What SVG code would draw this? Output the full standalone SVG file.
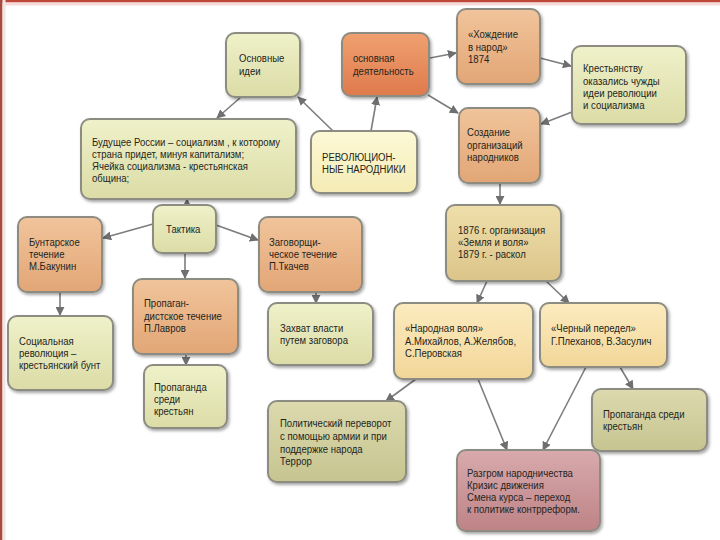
<svg xmlns="http://www.w3.org/2000/svg" width="720" height="540" viewBox="0 0 720 540">
<defs>
<style>
.n rect{stroke:#8c8c82;stroke-width:2;filter:url(#sh)}
.n text{font-family:"Liberation Sans",Arial,sans-serif;font-size:11px;fill:#24241c}
.c line{stroke:#7d7d7d;stroke-width:1.6;marker-end:url(#ah)}
</style>
<filter id="sh" x="-10%" y="-10%" width="125%" height="130%">
<feDropShadow dx="1.5" dy="2" stdDeviation="1.5" flood-color="#000" flood-opacity="0.35"/>
</filter>
<marker id="ah" viewBox="0 0 10 10" refX="9" refY="5" markerWidth="9" markerHeight="9" markerUnits="userSpaceOnUse" orient="auto">
<path d="M0,0 L10,5 L0,10 z" fill="#6f6f6f"/>
</marker>
<linearGradient id="gGreen" x1="0" y1="0" x2="0" y2="1"><stop offset="0" stop-color="#eff1c9"/><stop offset="1" stop-color="#dbdca6"/></linearGradient>
<linearGradient id="gOrange" x1="0" y1="0" x2="0" y2="1"><stop offset="0" stop-color="#f1c49b"/><stop offset="1" stop-color="#e2a676"/></linearGradient>
<linearGradient id="gRed" x1="0" y1="0" x2="0" y2="1"><stop offset="0" stop-color="#f0a070"/><stop offset="1" stop-color="#df7a4c"/></linearGradient>
<linearGradient id="gYellow" x1="0" y1="0" x2="0" y2="1"><stop offset="0" stop-color="#fdf9d6"/><stop offset="1" stop-color="#f4ebb4"/></linearGradient>
<linearGradient id="gTan" x1="0" y1="0" x2="0" y2="1"><stop offset="0" stop-color="#efdfab"/><stop offset="1" stop-color="#dbc489"/></linearGradient>
<linearGradient id="gCream" x1="0" y1="0" x2="0" y2="1"><stop offset="0" stop-color="#fcebbf"/><stop offset="1" stop-color="#f2d698"/></linearGradient>
<linearGradient id="gOlive" x1="0" y1="0" x2="0" y2="1"><stop offset="0" stop-color="#dcdaae"/><stop offset="1" stop-color="#c6c48f"/></linearGradient>
<linearGradient id="gPink" x1="0" y1="0" x2="0" y2="1"><stop offset="0" stop-color="#d8aaac"/><stop offset="1" stop-color="#be8387"/></linearGradient>
</defs>
<rect x="0" y="0" width="720" height="540" fill="#ffffff"/>
<rect x="0" y="0" width="720" height="2.5" fill="#c0483a"/>
<rect x="0" y="2.5" width="720" height="3" fill="#f6dcd8"/>
<rect x="0" y="0" width="2.5" height="540" fill="#a84a3c"/>
<rect x="2.5" y="0" width="3" height="540" fill="#f4e4e2"/>

<g id="connectors" class="c">
<line x1="241" y1="97" x2="217" y2="118"/>
<line x1="333" y1="131" x2="298" y2="97"/>
<line x1="371" y1="131" x2="377" y2="97"/>
<line x1="430" y1="58" x2="456" y2="53"/>
<line x1="428" y1="95" x2="458" y2="113"/>
<line x1="540" y1="58" x2="571" y2="66"/>
<line x1="572" y1="112" x2="541" y2="124"/>
<line x1="500" y1="183" x2="500" y2="204"/>
<line x1="187" y1="205" x2="187" y2="199"/>
<line x1="153" y1="224" x2="103" y2="238"/>
<line x1="216" y1="225" x2="258" y2="240"/>
<line x1="185" y1="253" x2="185" y2="278"/>
<line x1="60" y1="292" x2="60" y2="315"/>
<line x1="316" y1="292" x2="316" y2="303"/>
<line x1="186" y1="354" x2="186" y2="365"/>
<line x1="487" y1="281" x2="477" y2="303"/>
<line x1="545" y1="280" x2="569" y2="303"/>
<line x1="416" y1="379" x2="386" y2="401"/>
<line x1="478" y1="379" x2="507" y2="450"/>
<line x1="586" y1="367" x2="543" y2="450"/>
<line x1="620" y1="367" x2="633" y2="389"/>
</g>

<g id="n-ideas" class="n"><rect x="226" y="33" width="74" height="64" rx="9" fill="url(#gGreen)"/>
<g transform="translate(239 0) scale(0.87 1)"><text x="0" y="62">Основные</text><text x="0" y="75">идеи</text></g></g>

<g id="n-activity" class="n"><rect x="342" y="33" width="87" height="63" rx="9" fill="url(#gRed)"/>
<g transform="translate(353 0) scale(0.87 1)"><text x="0" y="62">основная</text><text x="0" y="75">деятельность</text></g></g>

<g id="n-khozhdenie" class="n"><rect x="457" y="9" width="83" height="75" rx="9" fill="url(#gOrange)"/>
<g transform="translate(468 0) scale(0.87 1)"><text x="0" y="38">«Хождение</text><text x="0" y="51">в народ»</text><text x="0" y="63">1874</text></g></g>

<g id="n-peasants" class="n"><rect x="572" y="46" width="114" height="78" rx="9" fill="url(#gGreen)"/>
<g transform="translate(583 0) scale(0.87 1)"><text x="0" y="72">Крестьянству</text><text x="0" y="85">оказались чужды</text><text x="0" y="97">идеи революции</text><text x="0" y="109">и социализма</text></g></g>

<g id="n-organizations" class="n"><rect x="459" y="108" width="81" height="75" rx="9" fill="url(#gOrange)"/>
<g transform="translate(467 0) scale(0.87 1)"><text x="0" y="136">Создание</text><text x="0" y="149">организаций</text><text x="0" y="161">народников</text></g></g>

<g id="n-revolutionary" class="n"><rect x="311" y="131" width="106" height="62" rx="9" fill="url(#gYellow)"/>
<g transform="translate(322 0) scale(0.87 1)"><text x="0" y="161">РЕВОЛЮЦИОН-</text><text x="0" y="173">НЫЕ НАРОДНИКИ</text></g></g>

<g id="n-future" class="n"><rect x="81" y="119" width="215" height="80" rx="9" fill="url(#gGreen)"/>
<g transform="translate(92 0) scale(0.87 1)"><text x="0" y="146">Будущее России – социализм , к которому</text><text x="0" y="158">страна придет, минуя капитализм;</text><text x="0" y="170">Ячейка социализма - крестьянская</text><text x="0" y="182">община;</text></g></g>

<g id="n-tactics" class="n"><rect x="153" y="205" width="63" height="48" rx="9" fill="url(#gGreen)"/>
<g transform="translate(166 0) scale(0.87 1)"><text x="0" y="233">Тактика</text></g></g>

<g id="n-bakunin" class="n"><rect x="18" y="217" width="84" height="75" rx="9" fill="url(#gOrange)"/>
<g transform="translate(29 0) scale(0.87 1)"><text x="0" y="246">Бунтарское</text><text x="0" y="258">течение</text><text x="0" y="270">М.Бакунин</text></g></g>

<g id="n-tkachev" class="n"><rect x="259" y="217" width="103" height="75" rx="9" fill="url(#gOrange)"/>
<g transform="translate(269 0) scale(0.87 1)"><text x="0" y="246">Заговорщи-</text><text x="0" y="258">ческое течение</text><text x="0" y="270">П.Ткачев</text></g></g>

<g id="n-lavrov" class="n"><rect x="133" y="279" width="105" height="75" rx="9" fill="url(#gOrange)"/>
<g transform="translate(144 0) scale(0.87 1)"><text x="0" y="307">Пропаган-</text><text x="0" y="320">дистское течение</text><text x="0" y="332">П.Лавров</text></g></g>

<g id="n-social" class="n"><rect x="8" y="316" width="105" height="74" rx="9" fill="url(#gGreen)"/>
<g transform="translate(19 0) scale(0.87 1)"><text x="0" y="345">Социальная</text><text x="0" y="357">революция –</text><text x="0" y="369">крестьянский бунт</text></g></g>

<g id="n-seizure" class="n"><rect x="268" y="303" width="105" height="62" rx="9" fill="url(#gGreen)"/>
<g transform="translate(280 0) scale(0.87 1)"><text x="0" y="332">Захват власти</text><text x="0" y="344">путем заговора</text></g></g>

<g id="n-propaganda-left" class="n"><rect x="144" y="365" width="83" height="63" rx="9" fill="url(#gGreen)"/>
<g transform="translate(154 0) scale(0.87 1)"><text x="0" y="391">Пропаганда</text><text x="0" y="403">среди</text><text x="0" y="415">крестьян</text></g></g>

<g id="n-zemlya" class="n"><rect x="446" y="205" width="115" height="76" rx="9" fill="url(#gTan)"/>
<g transform="translate(458 0) scale(0.87 1)"><text x="0" y="234">1876 г. организация</text><text x="0" y="246">«Земля и воля»</text><text x="0" y="258">1879 г. - раскол</text></g></g>

<g id="n-narodnaya" class="n"><rect x="394" y="303" width="139" height="76" rx="9" fill="url(#gCream)"/>
<g transform="translate(405 0) scale(0.87 1)"><text x="0" y="332">«Народная воля»</text><text x="0" y="345">А.Михайлов, А.Желябов,</text><text x="0" y="357">С.Перовская</text></g></g>

<g id="n-chorny" class="n"><rect x="540" y="303" width="127" height="64" rx="9" fill="url(#gCream)"/>
<g transform="translate(551 0) scale(0.87 1)"><text x="0" y="332">«Черный передел»</text><text x="0" y="345">Г.Плеханов, В.Засулич</text></g></g>

<g id="n-coup" class="n"><rect x="268" y="401" width="138" height="81" rx="9" fill="url(#gOlive)"/>
<g transform="translate(280 0) scale(0.87 1)"><text x="0" y="427">Политический переворот</text><text x="0" y="440">с помощью армии и при</text><text x="0" y="453">поддержке народа</text><text x="0" y="465">Террор</text></g></g>

<g id="n-propaganda-right" class="n"><rect x="592" y="389" width="115" height="62" rx="9" fill="url(#gOlive)"/>
<g transform="translate(603 0) scale(0.87 1)"><text x="0" y="418">Пропаганда среди</text><text x="0" y="430">крестьян</text></g></g>

<g id="n-defeat" class="n"><rect x="457" y="450" width="143" height="81" rx="9" fill="url(#gPink)"/>
<g transform="translate(467 0) scale(0.87 1)"><text x="0" y="477">Разгром народничества</text><text x="0" y="489">Кризис движения</text><text x="0" y="501">Смена курса – переход</text><text x="0" y="513">к политике контрреформ.</text></g></g>
</svg>
